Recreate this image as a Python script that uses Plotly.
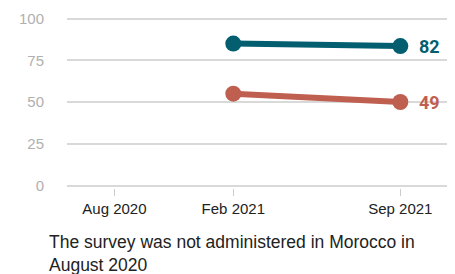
import plotly.graph_objects as go

# Data
tick_dates = ["2020-08-31", "2021-02-05", "2021-09-15"]
tick_labels = ["Aug 2020", "Feb 2021", "Sep 2021"]
survey_dates = ["2021-02-05", "2021-09-15"]
series_a = [85, 83.5]
series_b = [55, 50]
end_labels_a = "82"
end_labels_b = "49"
note = "The survey was not administered in Morocco in<br>August 2020"

BLUE = "#035E70"
RED = "#BF5F50"

fig = go.Figure()
for vals, col in [(series_a, BLUE), (series_b, RED)]:
    fig.add_trace(go.Scatter(
        x=survey_dates, y=vals, mode="lines+markers",
        line=dict(color=col, width=6),
        marker=dict(color=col, size=16),
        showlegend=False, hoverinfo="skip", cliponaxis=False,
    ))

for vals, lab, col in [(series_a, end_labels_a, BLUE), (series_b, end_labels_b, RED)]:
    fig.add_annotation(
        x=survey_dates[-1], y=vals[-1], text=f"<b>{lab}</b>",
        xanchor="left", yanchor="middle", xshift=17, yshift=0, showarrow=False,
        font=dict(family="Roboto", size=18, color=col),
    )

fig.add_annotation(
    xref="paper", yref="paper", x=-20/380, y=-42/172,
    xanchor="left", yanchor="top", align="left", showarrow=False,
    text=note, font=dict(family="Liberation Sans", size=17.5, color="#222222"),
)

fig.update_layout(
    width=455, height=274,
    margin=dict(l=67, r=8, t=16, b=86, autoexpand=False),
    plot_bgcolor="white", paper_bgcolor="white",
    xaxis=dict(
        type="date", range=["2020-06-29", "2021-11-16"], automargin=False,
        tickvals=tick_dates, ticktext=tick_labels,
        showgrid=False, zeroline=False, showline=False,
        ticks="outside", ticklen=7, tickcolor="#cccccc", tickwidth=1,
        tickfont=dict(family="Liberation Sans", size=15, color="#222222"),
    ),
    yaxis=dict(
        range=[-1.5, 101.5], tickvals=[0, 25, 50, 75, 100], automargin=False,
        showgrid=True, gridcolor="#d9d9d9", gridwidth=1.5,
        zeroline=False, showline=False, ticks="", ticklabelstandoff=22,
        tickfont=dict(family="Liberation Sans", size=15, color="#b0b0b0"),
    ),
)

fig.write_html(
    "out.html",
    config={"displayModeBar": False},
    post_script="document.body.style.margin='0';document.body.style.overflow='hidden';",
)
